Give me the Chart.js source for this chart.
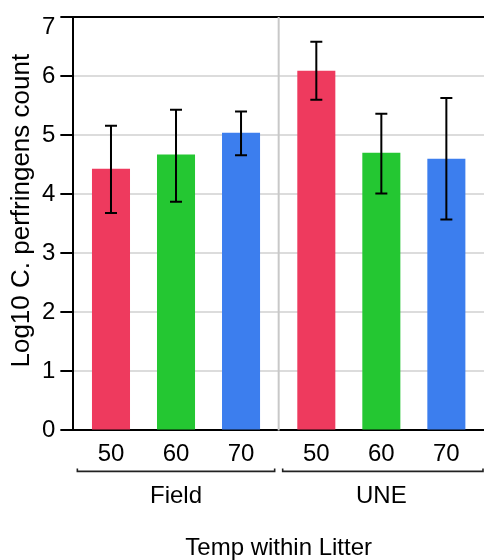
<!DOCTYPE html>
<html>
<head>
<meta charset="utf-8">
<script src="https://cdn.jsdelivr.net/npm/chart.js@4.4.1/dist/chart.umd.min.js"></script>
<style>
  html, body { margin: 0; padding: 0; background: #fff; }
  #wrap { width: 484px; height: 560px; position: relative; }
</style>
</head>
<body>
<div id="wrap"><canvas id="myChart"></canvas></div>
<script>
// Datos
var grupos = ['Field', 'UNE'];
var temperaturas = ['50', '60', '70'];
var colores = ['#EE3A5E', '#24C732', '#3C7EEE'];

// medias y límites de las barras de error (Field, UNE)
var media50 = [4.43, 6.09];
var bajo50 = [3.68, 5.60];
var alto50 = [5.16, 6.58];

var media60 = [4.67, 4.70];
var bajo60 = [3.87, 4.01];
var alto60 = [5.43, 5.36];

var media70 = [5.04, 4.60];
var bajo70 = [4.66, 3.57];
var alto70 = [5.40, 5.63];

var yTicks = [0, 1, 2, 3, 4, 5, 6, 7];
var yMax = 7;
var tituloY = 'Log10 C. perfringens count';

var medias = [media50, media60, media70];
var bajos = [bajo50, bajo60, bajo70];
var altos = [alto50, alto60, alto70];

Chart.defaults.font.family = "'Liberation Sans', Arial, sans-serif";
Chart.defaults.color = '#000';

var datasets = temperaturas.map(function(t, i) {
  return {
    label: t,
    data: medias[i],
    bajo: bajos[i],
    alto: altos[i],
    backgroundColor: colores[i],
    borderWidth: 0,
    categoryPercentage: 0.95,
    barPercentage: 0.585
  };
});

// Barras de error, etiquetas de temperatura, llaves, separador y título Y
var extras = {
  id: 'extras',
  beforeDatasetsDraw: function(chart) {
    var ctx = chart.ctx;
    var x = chart.scales.x;
    var area = chart.chartArea;
    var medio = (x.getPixelForValue(0) + x.getPixelForValue(1)) / 2;
    ctx.save();
    ctx.strokeStyle = '#c8c8c8';
    ctx.lineWidth = 2;
    ctx.beginPath();
    ctx.moveTo(medio, area.top);
    ctx.lineTo(medio, area.bottom);
    ctx.stroke();
    ctx.restore();
  },
  afterDatasetsDraw: function(chart) {
    var ctx = chart.ctx;
    var y = chart.scales.y;
    var x = chart.scales.x;
    var area = chart.chartArea;
    ctx.save();
    ctx.strokeStyle = '#000';
    ctx.lineWidth = 2;
    ctx.font = "24px 'Liberation Sans', Arial, sans-serif";
    chart.data.datasets.forEach(function(ds, i) {
      var meta = chart.getDatasetMeta(i);
      meta.data.forEach(function(bar, j) {
        var yA = y.getPixelForValue(ds.alto[j]);
        var yB = y.getPixelForValue(ds.bajo[j]);
        ctx.beginPath();
        ctx.moveTo(bar.x, yA);
        ctx.lineTo(bar.x, yB);
        ctx.moveTo(bar.x - 6, yA);
        ctx.lineTo(bar.x + 6, yA);
        ctx.moveTo(bar.x - 6, yB);
        ctx.lineTo(bar.x + 6, yB);
        ctx.stroke();

        // etiqueta de temperatura bajo cada barra
        ctx.fillStyle = '#000';
        ctx.textAlign = 'center';
        ctx.textBaseline = 'middle';
        ctx.fillText(ds.label, bar.x, area.bottom + 24);
      });
    });

    // la etiqueta superior del eje Y va bajada, pegada al borde
    ctx.textAlign = 'right';
    ctx.textBaseline = 'top';
    ctx.fillText(String(yMax), area.left - 18, y.getPixelForValue(yMax) - 2);

    // llaves de los grupos
    var medio = (x.getPixelForValue(0) + x.getPixelForValue(1)) / 2;
    var tramos = [[area.left + 4, medio - 4], [medio + 4, area.right - 1]];
    var yb = area.bottom + 41;
    ctx.strokeStyle = '#222';
    ctx.lineWidth = 1.6;
    tramos.forEach(function(t) {
      ctx.beginPath();
      ctx.moveTo(t[0], yb - 3);
      ctx.lineTo(t[0], yb);
      ctx.lineTo(t[1], yb);
      ctx.lineTo(t[1], yb - 3);
      ctx.stroke();
    });

    // título del eje Y
    ctx.translate(22, (area.top + area.bottom) / 2 - 13);
    ctx.rotate(-Math.PI / 2);
    ctx.font = "26px 'Liberation Sans', Arial, sans-serif";
    ctx.textAlign = 'center';
    ctx.textBaseline = 'middle';
    ctx.fillText(tituloY, 0, 0);
    ctx.restore();
  }
};

var ctx = document.getElementById('myChart');

var myChart = new Chart(ctx, {
  type: 'bar',
  data: {
    labels: grupos,
    datasets: datasets
  },
  options: {
    animation: false,
    responsive: true,
    maintainAspectRatio: false,
    layout: {
      padding: { left: 37, right: 0, top: 0, bottom: -3 }
    },
    plugins: {
      legend: { display: false },
      tooltip: { enabled: false }
    },
    scales: {
      x: {
        grid: { display: false, drawTicks: false },
        border: { color: '#000', width: 2 },
        ticks: {
          padding: 52,
          font: { size: 24 },
          color: '#000'
        },
        title: {
          display: true,
          text: 'Temp within Litter',
          font: { size: 24 },
          color: '#000',
          padding: { top: -29, bottom: 0 }
        }
      },
      y: {
        min: 0,
        max: yMax,
        afterBuildTicks: function(axis) {
          axis.ticks = yTicks.map(function(v) { return { value: v }; });
        },
        grid: {
          color: function(c) { return c.tick && c.tick.value === yMax ? '#000' : '#dcdcdc'; },
          lineWidth: 2,
          tickColor: '#000',
          tickLength: 13,
          tickWidth: 2
        },
        border: { color: '#000', width: 2 },
        ticks: {
          padding: 5,
          font: { size: 24, lineHeight: 1.0 },
          color: function(c) { return c.tick && c.tick.value === yMax ? 'rgba(0,0,0,0)' : '#000'; }
        }
      }
    }
  },
  plugins: [extras]
});
</script>
</body>
</html>
